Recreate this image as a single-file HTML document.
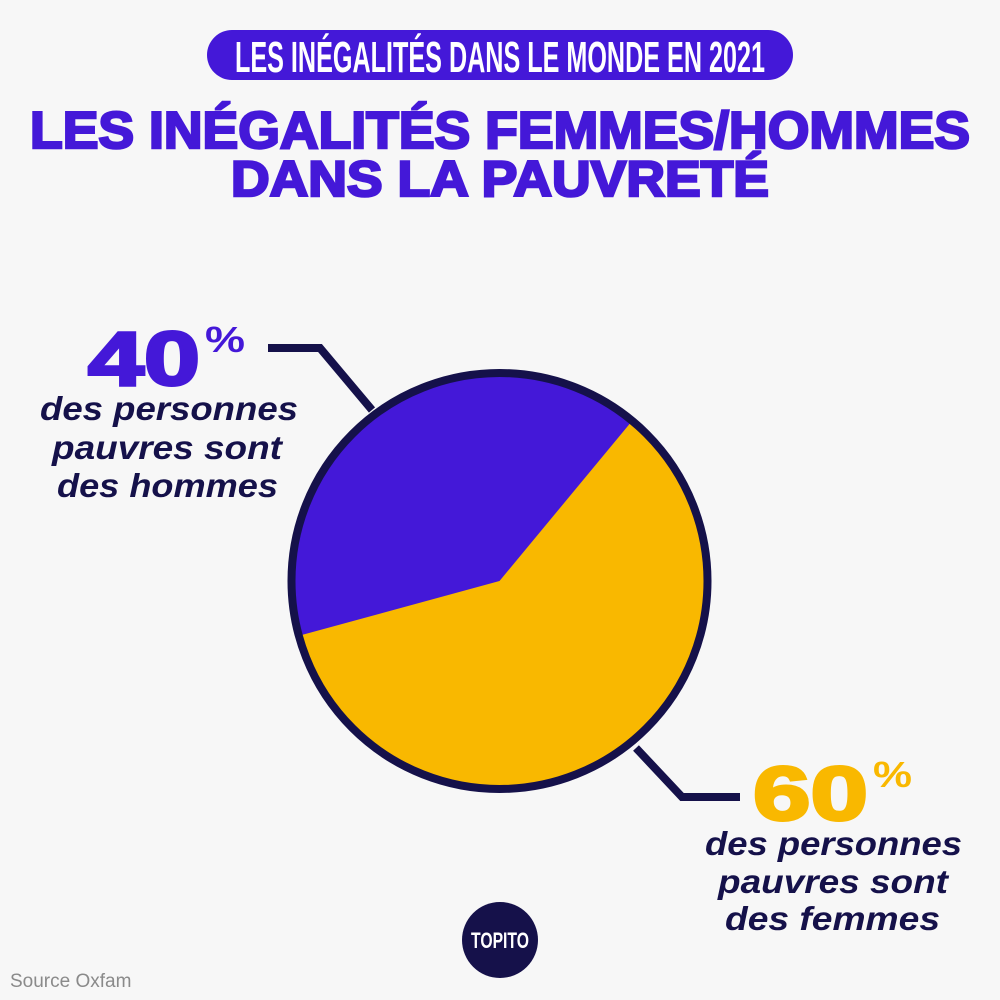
<!DOCTYPE html>
<html><head><meta charset="utf-8"><style>
html,body{margin:0;padding:0;background:#f7f7f7;}
svg{display:block}
</style></head><body>
<svg width="1000" height="1000" viewBox="0 0 1000 1000" xmlns="http://www.w3.org/2000/svg">
<rect width="1000" height="1000" fill="#f7f7f7"/>
<rect x="207" y="30" width="586" height="50" rx="25" fill="#4418d8"/>
<text x="500" y="72" text-anchor="middle" font-family="Liberation Sans Narrow, Liberation Sans, sans-serif" font-weight="bold" font-size="44" fill="#fff" textLength="530" lengthAdjust="spacingAndGlyphs">LES INÉGALITÉS DANS LE MONDE EN 2021</text>
<text x="500" y="148" text-anchor="middle" font-family="Liberation Sans, sans-serif" font-weight="bold" font-size="52" fill="#4418d8" stroke="#4418d8" stroke-width="2.5" textLength="940" lengthAdjust="spacingAndGlyphs">LES INÉGALITÉS FEMMES/HOMMES</text>
<text x="500" y="196" text-anchor="middle" font-family="Liberation Sans, sans-serif" font-weight="bold" font-size="50" fill="#4418d8" stroke="#4418d8" stroke-width="2.5" textLength="538" lengthAdjust="spacingAndGlyphs">DANS LA PAUVRETÉ</text>

<!-- leaders -->
<polyline points="268,348 320,348 372,410" fill="none" stroke="#15114a" stroke-width="8"/>
<polyline points="636,748 682,797 740,797" fill="none" stroke="#15114a" stroke-width="8"/>

<!-- pie -->
<circle cx="499.5" cy="581" r="208" fill="#f9b800"/>
<path d="M499.5,581 L632,421 A208,208 0 0 0 298,636 Z" fill="#4418d8"/>
<circle cx="499.5" cy="581" r="208" fill="none" stroke="#15114a" stroke-width="8"/>

<!-- 40% -->
<text x="88" y="385" font-family="Liberation Sans, sans-serif" font-weight="bold" font-size="76" fill="#4418d8" stroke="#4418d8" stroke-width="3" textLength="112" lengthAdjust="spacingAndGlyphs">40</text>
<text x="205" y="352" font-family="Liberation Sans, sans-serif" font-weight="bold" font-size="36" fill="#4418d8" textLength="40" lengthAdjust="spacingAndGlyphs">%</text>
<g font-family="Liberation Sans, sans-serif" font-weight="bold" font-style="italic" font-size="33" fill="#15114a">
<text x="40" y="420" textLength="258" lengthAdjust="spacingAndGlyphs">des personnes</text>
<text x="52" y="459" textLength="230" lengthAdjust="spacingAndGlyphs">pauvres sont</text>
<text x="57" y="497" textLength="221" lengthAdjust="spacingAndGlyphs">des hommes</text>
<text x="705" y="855" textLength="257" lengthAdjust="spacingAndGlyphs">des personnes</text>
<text x="718" y="893" textLength="230" lengthAdjust="spacingAndGlyphs">pauvres sont</text>
<text x="725" y="930" textLength="215" lengthAdjust="spacingAndGlyphs">des femmes</text>
</g>
<!-- 60% -->
<text x="753" y="820" font-family="Liberation Sans, sans-serif" font-weight="bold" font-size="76" fill="#f9b800" stroke="#f9b800" stroke-width="3" textLength="115" lengthAdjust="spacingAndGlyphs">60</text>
<text x="873" y="787" font-family="Liberation Sans, sans-serif" font-weight="bold" font-size="36" fill="#f9b800" textLength="39" lengthAdjust="spacingAndGlyphs">%</text>

<!-- logo -->
<circle cx="500" cy="940" r="38" fill="#15114a"/>
<text x="500" y="948" text-anchor="middle" font-family="Liberation Sans Narrow, Liberation Sans, sans-serif" font-weight="bold" font-size="22" fill="#fff" textLength="58" lengthAdjust="spacingAndGlyphs">TOPITO</text>

<text x="10" y="987" font-family="Liberation Sans, sans-serif" font-size="19" fill="#8a8a8a">Source Oxfam</text>
</svg>
</body></html>
